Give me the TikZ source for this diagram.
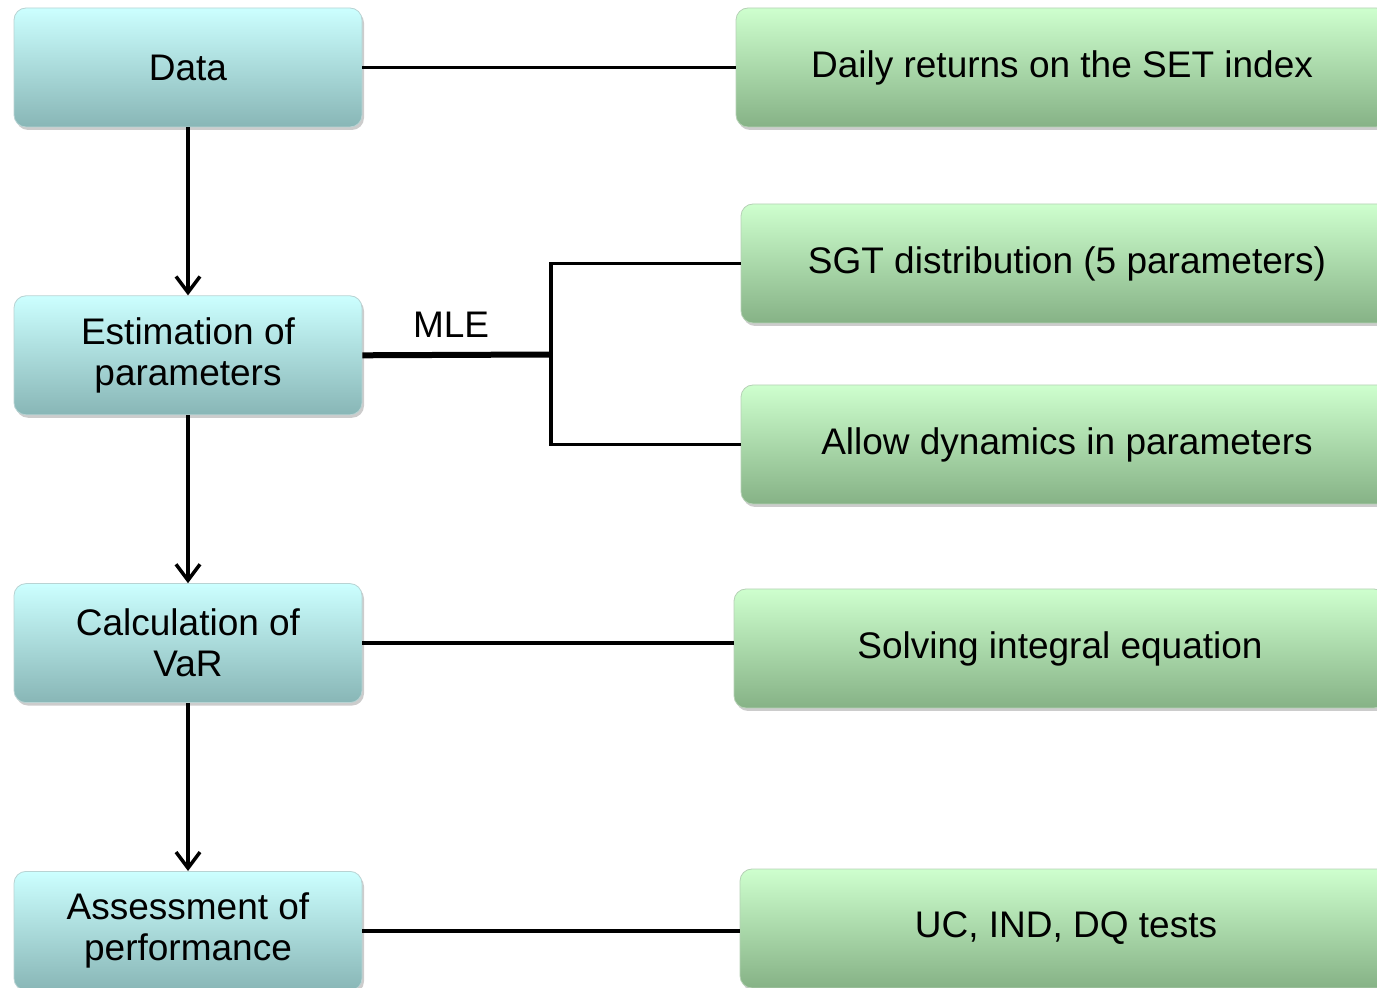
\documentclass[tikz,border=0pt]{standalone}
\usepackage{fontspec}
\setmainfont{Liberation Sans}
\usetikzlibrary{arrows.meta,positioning,shadows}

\definecolor{cyantop}{RGB}{204,255,255}
\definecolor{cyanbot}{RGB}{136,182,182}
\definecolor{greentop}{RGB}{206,255,206}
\definecolor{greenbot}{RGB}{134,178,134}

\tikzset{
  stepbox/.style={rectangle,rounded corners=6pt,minimum width=174pt,minimum height=59.5pt,
    top color=cyantop,bottom color=cyanbot,draw=cyanbot!60!white,line width=0.4pt,
    align=center,drop shadow={shadow xshift=1pt,shadow yshift=-1.5pt,opacity=.4}},
  infobox/.style={rectangle,rounded corners=6pt,minimum width=326pt,minimum height=59.5pt,
    top color=greentop,bottom color=greenbot,draw=greenbot!60!white,line width=0.4pt,
    align=center,drop shadow={shadow xshift=1pt,shadow yshift=-1.5pt,opacity=.4}}
}

\begin{document}
\begin{tikzpicture}[x=0.5pt,y=-0.5pt,line width=1.75pt,node distance=84pt,
    >={Straight Barb[length=8pt,width=12pt]},
    font=\fontsize{18.5}{20.5}\selectfont]
    \useasboundingbox (0,0) rectangle (1377,988);
    % left column
    \node[stepbox] (data)                   at (188,67.5) {Data};
    \node[stepbox] (est)    [below=of data] {Estimation of\\parameters};
    \node[stepbox] (calc)   [below=of est]  {Calculation of\\VaR};
    \node[stepbox] (assess) [below=of calc] {Assessment of\\performance};
    % right column
    \node[infobox] (daily) at (1062,67.5)  {Daily returns on the SET index};
    \node[infobox] (sgt)   at (1067,263.5) {SGT distribution (5 parameters)};
    \node[infobox] (allow) at (1067,444.5) {Allow dynamics in parameters};
    \node[infobox] (solve) at (1060,648.5) {Solving integral equation};
    \node[infobox] (tests) at (1066,928.5) {UC, IND, DQ tests};
    \coordinate (mle) at (551,354.5);

    \draw[->] (data) -- (est);
    \draw[->] (est) -- (calc);
    \draw[->] (calc) -- (assess);
    \draw (data.east) -- (data.east -| daily.west);
    \draw[line width=3pt] (est.east) -- (mle) node[pos=0.47,above=4pt] {MLE};
    \draw (sgt.west) -| (mle) |- (allow.west);
    \draw (calc.east) -- (calc.east -| solve.west);
    \draw (assess.east) -- (assess.east -| tests.west);
\end{tikzpicture}
\end{document}
